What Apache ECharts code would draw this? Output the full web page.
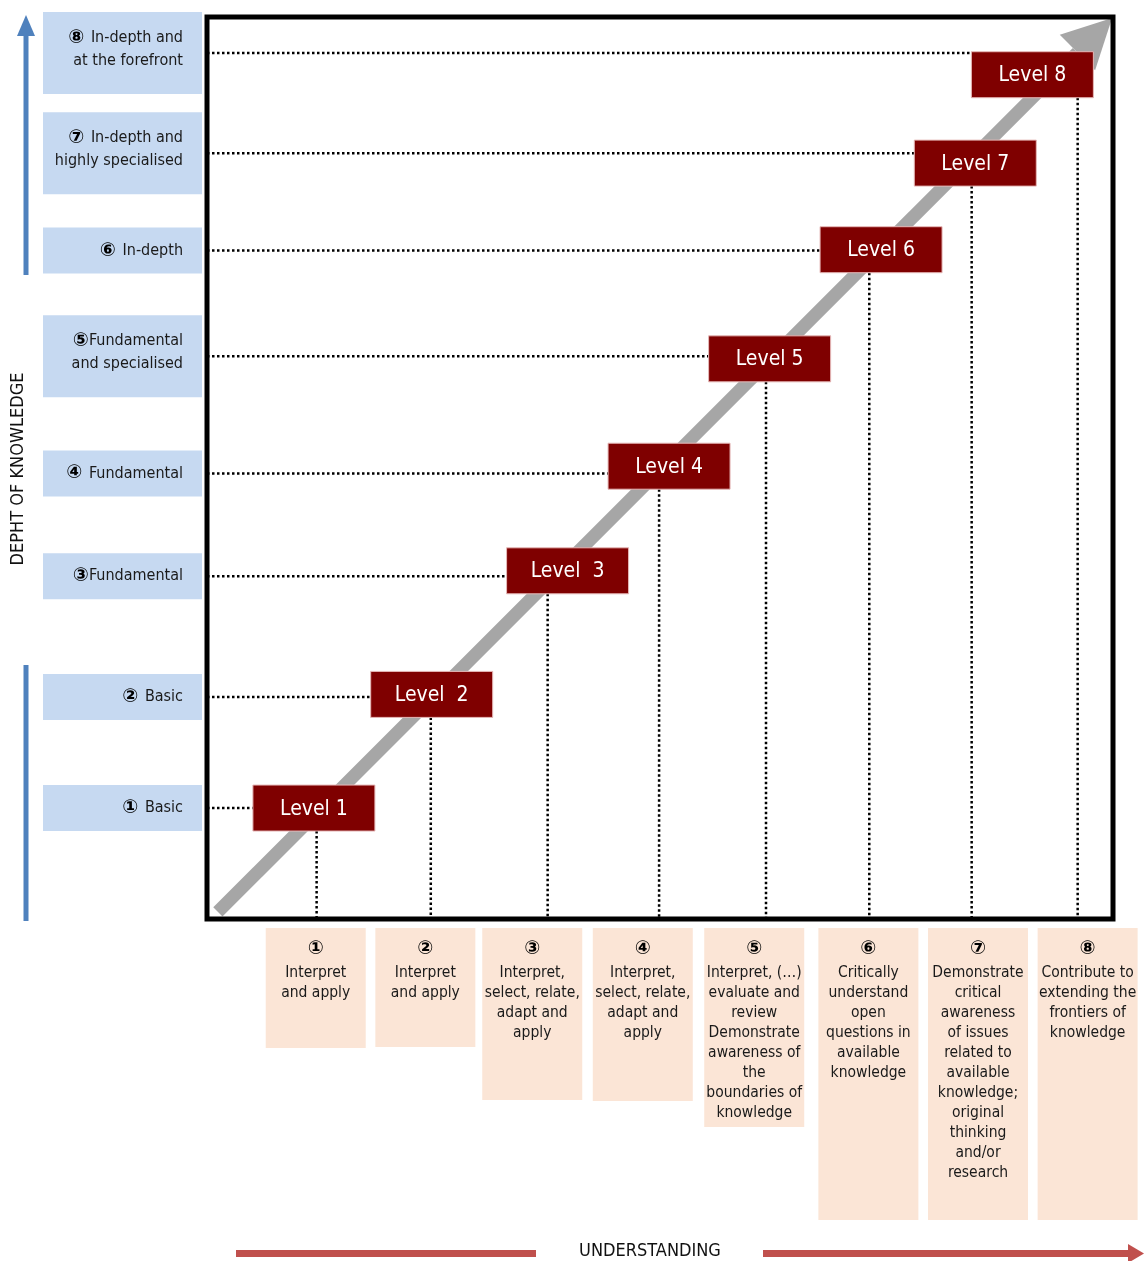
<!DOCTYPE html>
<html>
<head>
<meta charset="utf-8">
<title>Depth of knowledge and understanding</title>
<script src="https://cdn.jsdelivr.net/npm/echarts@6/dist/echarts.min.js"></script>
<style>
  html, body { margin: 0; padding: 0; background: #fff; }
  #chart { width: 1144px; height: 1261px; }
</style>
</head>
<body>
<div id="chart"></div>
<script>
'use strict';

// both scales run 0-100 (understanding on x, depth of knowledge on y)
var levelNames = ['Level 1', 'Level  2', 'Level  3', 'Level 4', 'Level 5', 'Level 6', 'Level 7', 'Level 8'];
var levelX = [11.8, 24.8, 39.8, 51.0, 62.1, 74.4, 84.8, 91.1];
var levelY = [12.3, 24.9, 38.6, 50.2, 62.1, 74.2, 83.8, 93.6];

// depth rows: left labels and horizontal guides
var depthRows = [12.3, 24.6, 38.0, 49.4, 62.4, 74.1, 84.9, 96.0];
var depthNumbers = ['\u2460 ', '\u2461 ', '\u2462', '\u2463 ', '\u2464', '\u2465 ', '\u2466 ', '\u2467 '];
var depthLabels = [
  'Basic',
  'Basic',
  'Fundamental',
  'Fundamental',
  'Fundamental\nand specialised',
  'In-depth',
  'In-depth and\nhighly specialised',
  'In-depth and\nat the forefront'
];

// understanding: vertical guides and the cards under the box
var understandX = [12.1, 24.7, 37.6, 49.9, 61.7, 73.1, 84.4, 96.1];
var cardX = [12.0, 24.1, 35.9, 48.1, 60.4, 73.0, 85.1, 97.2];
var cardNumbers = ['\u2460', '\u2461', '\u2462', '\u2463', '\u2464', '\u2465', '\u2466', '\u2467'];
var cardLabels = [
  'Interpret\nand apply',
  'Interpret\nand apply',
  'Interpret,\nselect, relate,\nadapt and\napply',
  'Interpret,\nselect, relate,\nadapt and\napply',
  'Interpret, (\u2026)\nevaluate and\nreview\nDemonstrate\nawareness of\nthe\nboundaries of\nknowledge',
  'Critically\nunderstand\nopen\nquestions in\navailable\nknowledge',
  'Demonstrate\ncritical\nawareness\nof issues\nrelated to\navailable\nknowledge;\noriginal\nthinking\nand/or\nresearch',
  'Contribute to\nextending the\nfrontiers of\nknowledge'
];

// grey trend arrow, start and tip
var trendStart = [1.2, 0.8];
var trendEnd = [99.9, 99.9];

// layout
var FONT = "'Liberation Sans Narrow', 'Arial Narrow', 'DejaVu Sans Condensed', 'Liberation Sans', sans-serif";
var NUM_FONT = "bold 19px 'DejaVu Sans', sans-serif";
var GRID = { left: 207, top: 17, right: 31, bottom: 342 };
var BOX_W = 122, BOX_H = 46;
var CARD_W = 100;
var CARD_BOTTOM = [1048, 1047, 1100, 1101, 1127, 1220, 1220, 1220];

var myChart = echarts.init(document.getElementById('chart'), null, { renderer: 'canvas' });

var dotted = { stroke: '#000', lineWidth: 2.5, lineDash: [2.5, 2.5] };

var option = {
  animation: false,
  backgroundColor: '#fff',
  grid: {
    left: GRID.left, top: GRID.top, right: GRID.right, bottom: GRID.bottom,
    show: true, borderColor: '#000', borderWidth: 5, backgroundColor: 'transparent', z: 10
  },
  xAxis: { type: 'value', min: 0, max: 100, show: false },
  yAxis: { type: 'value', min: 0, max: 100, show: false },
  graphic: [
    // depth arrow (upper part) and lower bar
    { type: 'line', shape: { x1: 26, y1: 275, x2: 26, y2: 34 }, style: { stroke: '#4F81BD', lineWidth: 5 } },
    { type: 'polygon', shape: { points: [[26, 15], [17, 36], [35, 36]] }, style: { fill: '#4F81BD' } },
    { type: 'line', shape: { x1: 26, y1: 665, x2: 26, y2: 921 }, style: { stroke: '#4F81BD', lineWidth: 5 } },
    {
      type: 'text', x: 18, y: 469, rotation: Math.PI / 2,
      style: { text: 'DEPHT OF KNOWLEDGE', fill: '#111', font: '18px ' + FONT, align: 'center', verticalAlign: 'middle' }
    },
    // understanding arrow
    { type: 'rect', shape: { x: 236, y: 1250, width: 300, height: 7 }, style: { fill: '#C0504D' } },
    { type: 'rect', shape: { x: 763, y: 1250, width: 368, height: 7 }, style: { fill: '#C0504D' } },
    { type: 'polygon', shape: { points: [[1144, 1253.5], [1128, 1244], [1128, 1263]] }, style: { fill: '#C0504D' } },
    {
      type: 'text', x: 650, y: 1251,
      style: { text: 'UNDERSTANDING', fill: '#111', font: '18px ' + FONT, align: 'center', verticalAlign: 'middle' }
    }
  ],
  series: [
    {
      name: 'trend',
      type: 'custom',
      z: 1,
      clip: false,
      data: [trendStart.concat(trendEnd)],
      renderItem: function (params, api) {
        var p0 = api.coord([api.value(0), api.value(1)]);
        var p1 = api.coord([api.value(2), api.value(3)]);
        var dx = p1[0] - p0[0], dy = p1[1] - p0[1];
        var len = Math.sqrt(dx * dx + dy * dy);
        var ux = dx / len, uy = dy / len;
        var headL = 49, headW = 25;
        var bx = p1[0] - ux * headL, by = p1[1] - uy * headL;
        return {
          type: 'group',
          children: [
            { type: 'line', shape: { x1: p0[0], y1: p0[1], x2: bx, y2: by }, style: { stroke: '#A6A6A6', lineWidth: 13 } },
            {
              type: 'polygon',
              shape: { points: [[p1[0], p1[1]], [bx - uy * headW, by + ux * headW], [bx + uy * headW, by - ux * headW]] },
              style: { fill: '#A6A6A6' }
            }
          ]
        };
      }
    },
    {
      name: 'guides',
      type: 'custom',
      z: 2,
      data: levelX.map(function (x, i) { return [x, levelY[i], depthRows[i], understandX[i]]; }),
      renderItem: function (params, api) {
        var c = api.coord([api.value(0), api.value(1)]);
        var row = api.coord([0, api.value(2)]);
        var col = api.coord([api.value(3), 0]);
        return {
          type: 'group',
          children: [
            { type: 'line', shape: { x1: row[0], y1: row[1], x2: c[0] - BOX_W / 2, y2: row[1] }, style: dotted },
            { type: 'line', shape: { x1: col[0], y1: c[1] + BOX_H / 2, x2: col[0], y2: col[1] }, style: dotted }
          ]
        };
      }
    },
    {
      name: 'levels',
      type: 'custom',
      z: 3,
      data: levelX.map(function (x, i) { return [x, levelY[i]]; }),
      renderItem: function (params, api) {
        var c = api.coord([api.value(0), api.value(1)]);
        return {
          type: 'group',
          children: [
            {
              type: 'rect',
              shape: { x: c[0] - BOX_W / 2, y: c[1] - BOX_H / 2, width: BOX_W, height: BOX_H },
              style: { fill: '#7F0000', stroke: '#E6B9B8', lineWidth: 1 }
            },
            {
              type: 'text', x: c[0], y: c[1] + 1,
              style: { text: levelNames[params.dataIndex], fill: '#fff', font: '21px ' + FONT, align: 'center', verticalAlign: 'middle' }
            }
          ]
        };
      }
    },
    {
      name: 'depth',
      type: 'custom',
      z: 3,
      clip: false,
      data: depthRows.map(function (y) { return [0, y]; }),
      renderItem: function (params, api) {
        var i = params.dataIndex;
        var c = api.coord([api.value(0), api.value(1)]);
        var lines = depthLabels[i].split('\n');
        var h = lines.length > 1 ? 82 : 46;
        var x0 = 43, x1 = GRID.left - 5;
        var text = '{n|' + depthNumbers[i] + '}{t|' + lines[0] + '}';
        if (lines.length > 1) text += '\n{t|' + lines[1] + '}';
        return {
          type: 'group',
          children: [
            { type: 'rect', shape: { x: x0, y: c[1] - h / 2, width: x1 - x0, height: h }, style: { fill: '#C6D9F1' } },
            {
              type: 'text', x: 183, y: c[1] + (lines.length > 1 ? -4 : 0),
              style: {
                text: text, fill: '#1a1a1a', align: 'right', verticalAlign: 'middle',
                rich: {
                  n: { font: NUM_FONT, fill: '#000', lineHeight: 23 },
                  t: { font: '16px ' + FONT, fill: '#1a1a1a', lineHeight: 23 }
                }
              }
            }
          ]
        };
      }
    },
    {
      name: 'understanding',
      type: 'custom',
      z: 3,
      clip: false,
      data: cardX.map(function (x) { return [x, 0]; }),
      renderItem: function (params, api) {
        var i = params.dataIndex;
        var c = api.coord([api.value(0), api.value(1)]);
        var top = c[1] + 9;
        return {
          type: 'group',
          children: [
            {
              type: 'rect',
              shape: { x: c[0] - CARD_W / 2, y: top, width: CARD_W, height: CARD_BOTTOM[i] - top },
              style: { fill: '#FBE5D6' }
            },
            {
              type: 'text', x: c[0], y: top + 21,
              style: { text: cardNumbers[i], fill: '#000', font: NUM_FONT, align: 'center', verticalAlign: 'middle' }
            },
            {
              type: 'text', x: c[0], y: top + 35,
              style: { text: cardLabels[i], fill: '#1a1a1a', font: '15.5px ' + FONT, align: 'center', verticalAlign: 'top', lineHeight: 20 }
            }
          ]
        };
      }
    }
  ]
};

myChart.setOption(option);
</script>
</body>
</html>
